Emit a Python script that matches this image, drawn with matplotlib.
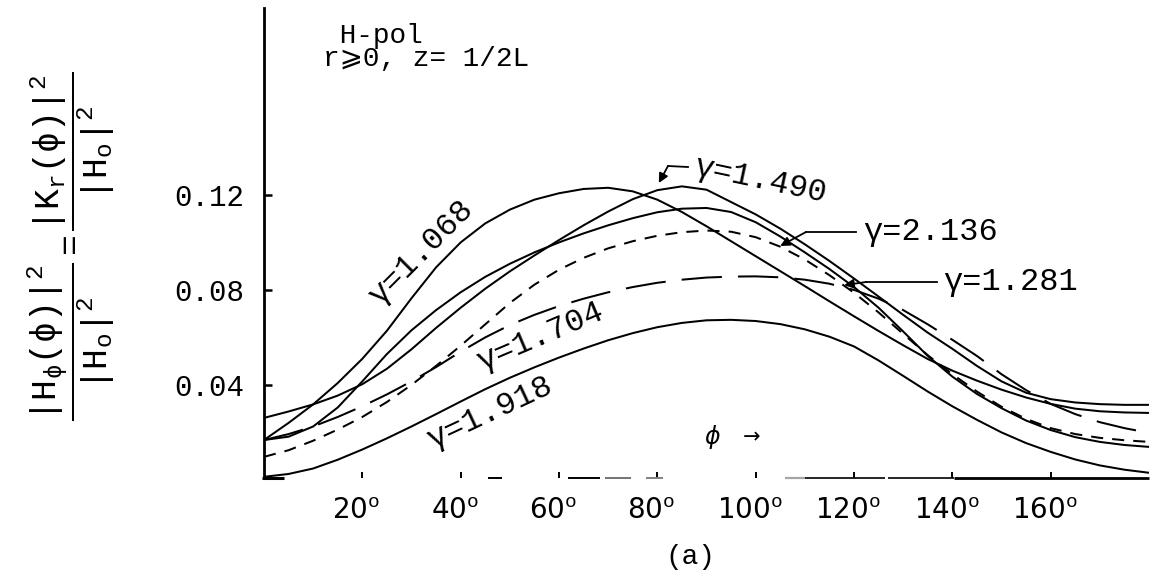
import matplotlib
matplotlib.use('Agg')
import matplotlib.pyplot as plt
from matplotlib.lines import Line2D
from matplotlib.transforms import ScaledTranslation

# ---------------- data ----------------
phi = [0, 5, 10, 15, 20, 25, 30, 35, 40, 45, 50, 55, 60, 65, 70, 75, 80, 85, 90,
       95, 100, 105, 110, 115, 120, 125, 130, 135, 140, 145, 150, 155, 160, 165,
       170, 175, 180]

g1068 = [0.0168, 0.0240, 0.0318, 0.0408, 0.0510, 0.0628, 0.0765, 0.0895, 0.1000,
         0.1080, 0.1138, 0.1180, 0.1207, 0.1225, 0.1230, 0.1215, 0.1180, 0.1128,
         0.1068, 0.1005, 0.0942, 0.0879, 0.0816, 0.0752, 0.0689, 0.0627, 0.0567,
         0.0509, 0.0460, 0.0418, 0.0380, 0.0347, 0.0320, 0.0300, 0.0289, 0.0284,
         0.0282]

g1490 = [0.0261, 0.0288, 0.0318, 0.0355, 0.0403, 0.0468, 0.0550, 0.0640, 0.0725,
         0.0805, 0.0878, 0.0945, 0.1010, 0.1072, 0.1130, 0.1182, 0.1220, 0.1236,
         0.1222, 0.1170, 0.1118, 0.1058, 0.0992, 0.0922, 0.0848, 0.0772, 0.0695,
         0.0620, 0.0552, 0.0480, 0.0415, 0.0367, 0.0340, 0.0326, 0.0319, 0.0316,
         0.0316]

g1281 = [0.0168, 0.0182, 0.0225, 0.0305, 0.0415, 0.0530, 0.0630, 0.0715, 0.0790,
         0.0855, 0.0910, 0.0958, 0.1000, 0.1038, 0.1072, 0.1102, 0.1127, 0.1142,
         0.1145, 0.1128, 0.1085, 0.1025, 0.0958, 0.0888, 0.0812, 0.0725, 0.0625,
         0.0522, 0.0435, 0.0362, 0.0302, 0.0250, 0.0210, 0.0180, 0.0160, 0.0147,
         0.0139]

g2136 = [0.0097, 0.0125, 0.0165, 0.0212, 0.0265, 0.0328, 0.0400, 0.0480, 0.0565,
         0.0655, 0.0745, 0.0822, 0.0885, 0.0935, 0.0975, 0.1005, 0.1028, 0.1043,
         0.1050, 0.1045, 0.1022, 0.0982, 0.0928, 0.0862, 0.0788, 0.0705, 0.0615,
         0.0525, 0.0445, 0.0372, 0.0308, 0.0257, 0.0218, 0.0193, 0.0177, 0.0167,
         0.0160]

g1704 = [0.0168, 0.0193, 0.0225, 0.0265, 0.0310, 0.0360, 0.0415, 0.0475, 0.0540,
         0.0600, 0.0652, 0.0695, 0.0732, 0.0763, 0.0790, 0.0812, 0.0830, 0.0843,
         0.0852, 0.0856, 0.0857, 0.0853, 0.0843, 0.0826, 0.0800, 0.0763, 0.0715,
         0.0655, 0.0590, 0.0522, 0.0445, 0.0378, 0.0320, 0.0277, 0.0243, 0.0218,
         0.0198]

g1918 = [0.0013, 0.0025, 0.0048, 0.0085, 0.0128, 0.0175, 0.0225, 0.0277, 0.0330,
         0.0382, 0.0430, 0.0474, 0.0515, 0.0553, 0.0588, 0.0618, 0.0643, 0.0661,
         0.0672, 0.0674, 0.0669, 0.0656, 0.0634, 0.0603, 0.0562, 0.0503, 0.0438,
         0.0372, 0.0310, 0.0253, 0.0200, 0.0155, 0.0118, 0.0086, 0.0061, 0.0043,
         0.0030]

xticks = [20, 40, 60, 80, 100, 120, 140, 160]
xticklabels = [r'20$^{\mathrm{o}}$', r'40$^{\mathrm{o}}$', r'60$^{\mathrm{o}}$',
               r'80$^{\mathrm{o}}$', r'100$^{\mathrm{o}}$', r'120$^{\mathrm{o}}$',
               r'140$^{\mathrm{o}}$', r'160$^{\mathrm{o}}$']
yticks = [0.04, 0.08, 0.12]
yticklabels = ['0.04', '0.08', '0.12']

# ---------------- style ----------------
plt.rcParams['font.family'] = ['Liberation Mono', 'DejaVu Sans']
plt.rcParams['mathtext.fontset'] = 'custom'
plt.rcParams['mathtext.rm'] = 'Liberation Mono'
plt.rcParams['mathtext.it'] = 'Liberation Mono'
plt.rcParams['mathtext.sf'] = 'Liberation Mono'
plt.rcParams['mathtext.bf'] = 'Liberation Mono'

W, H = 1150, 571
fig = plt.figure(figsize=(W / 100, H / 100), dpi=100)
ax = fig.add_axes([264 / W, 1 - 478 / H, (1149 - 264) / W, (478 - 8) / H])

LW = 1.45
common = dict(color='k', lw=LW, solid_joinstyle='round', dash_joinstyle='round')
ax.plot(phi, g1068, **common)
ax.plot(phi, g1490, **common)
ax.plot(phi, g1281, **common)
ax.plot(phi, g2136, linestyle=(0, (6, 4.5)), **common)
ax.plot(phi, g1704, linestyle=(0, (20, 8)), **common)
ax.plot(phi, g1918, **common)

ax.set_xlim(0, 180)
ax.set_ylim(0.0008, 0.1987)

for s in ['top', 'right', 'bottom']:
    ax.spines[s].set_visible(False)
ax.spines['left'].set_linewidth(2.0)

# broken (scan-faded) bottom axis line
bottom_segments = [(-0.5, 4.0, 'k', 2.2), (45.5, 48.4, 'k', 1.4), (61.8, 68.3, 'k', 1.4),
                   (69.3, 74.6, '0.45', 1.4), (77.6, 81.1, '0.5', 1.4),
                   (106.0, 110.0, '0.65', 1.6), (110.0, 126.4, 'k', 1.2),
                   (127.0, 140.4, 'k', 1.2), (140.4, 180.0, 'k', 2.0)]
trans = ax.get_xaxis_transform()
for x0, x1, c, w in bottom_segments:
    ax.add_line(Line2D([x0, x1], [0, 0], transform=trans, color=c, lw=w,
                       clip_on=False, solid_capstyle='butt'))

ax.set_xticks(xticks)
ax.set_xticklabels(xticklabels, fontfamily='DejaVu Sans', fontsize=20)
ax.set_yticks(yticks)
ax.set_yticklabels(yticklabels, fontsize=21)
ax.tick_params(axis='x', direction='in', length=4, width=1.4, pad=13)
ax.tick_params(axis='y', direction='in', length=6, width=1.8, pad=14)
shift = ScaledTranslation(-6 / 100, 0, fig.dpi_scale_trans)
for t in ax.get_xticklabels():
    t.set_transform(t.get_transform() + shift)


def fx(x):
    return x / W


def fy(y):
    return 1 - y / H


# y-axis label (two fractions)
fig.text(fx(71), fy(246),
         r'$\dfrac{|\mathrm{H}_{\phi}(\phi)|^{2}}{|\mathrm{H}_{\mathrm{o}}|^{2}}'
         r' = \dfrac{|\mathrm{K}_{\mathrm{r}}(\phi)|^{2}}{|\mathrm{H}_{\mathrm{o}}|^{2}}$',
         rotation=90, ha='center', va='center', fontsize=25)

# header text (two lines, first indented by one character)
fig.text(fx(323), fy(23), ' H-pol\nr\u2a7e0, z= 1/2L', ha='left', va='top',
         fontsize=20, linespacing=0.86)

# curve labels
lab = dict(ha='center', va='center', fontsize=23, rotation_mode='anchor')
fig.text(fx(421), fy(253), '\u03b3=1.068', rotation=45, **lab)
fig.text(fx(540), fy(337), '\u03b3=1.704', rotation=23, **lab)
fig.text(fx(490), fy(413), '\u03b3=1.918', rotation=25, **lab)
fig.text(fx(760), fy(180), '\u03b3=1.490', rotation=-12, **lab)
fig.text(fx(863), fy(232), '\u03b3=2.136', ha='left', va='center', fontsize=23)
fig.text(fx(943), fy(282), '\u03b3=1.281', ha='left', va='center', fontsize=23)

# leader lines with arrowheads
arrow = dict(arrowstyle='-|>', color='k', lw=1.3, shrinkA=0, shrinkB=0,
             mutation_scale=14)


def leader(points_px, tip_data):
    xs = [fx(p[0]) for p in points_px]
    ys = [fy(p[1]) for p in points_px]
    fig.add_artist(Line2D(xs, ys, transform=fig.transFigure, color='k', lw=1.3))
    last = points_px[-1]
    ax.annotate('', xy=tip_data, xycoords='data',
                xytext=(fx(last[0]), fy(last[1])), textcoords='figure fraction',
                arrowprops=arrow)


leader([(688, 167), (668, 166)], (80.3, 0.1250))
leader([(856, 232), (806, 232)], (105.0, 0.0985))
leader([(937, 282), (866, 282)], (118.0, 0.0820))

# phi arrow label
fig.text(fx(712), fy(437), '\u03d5', ha='center', va='center', fontsize=17,
         fontfamily='DejaVu Sans', style='italic')
fig.text(fx(752), fy(437), '\u2192', ha='center', va='center', fontsize=15,
         fontfamily='DejaVu Sans')

# panel label
fig.text(fx(690), fy(557), '(a)', ha='center', va='center', fontsize=20)

fig.savefig('out.png', dpi=100)
